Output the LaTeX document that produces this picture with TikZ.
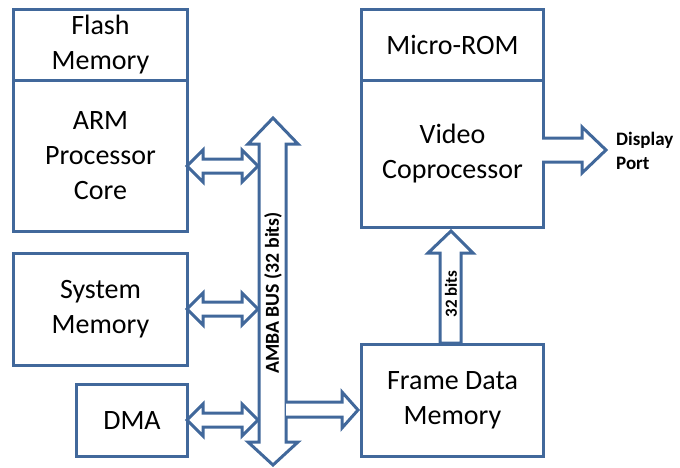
\documentclass[tikz,border=0pt]{standalone}
\usepackage{fontspec}
\setmainfont{Carlito}
\definecolor{bl}{HTML}{41689B}
\begin{document}
\begin{tikzpicture}[x=1pt,y=-1pt,
  box/.style={draw=bl, line width=3pt, fill=white, inner sep=0pt, align=center,
    anchor=north west, font=\fontsize{28}{35}\selectfont},
  blk/.style={draw=bl, line width=3pt, fill=white, line join=miter},
  lbl/.style={font=\bfseries\fontsize{17}{20}\selectfont, inner sep=0pt}]
\useasboundingbox (0,0) rectangle (680,467);
% boxes
\node[box, minimum width=174pt, minimum height=71pt] (flash) at (12,8) {Flash\\Memory};
\node[box, minimum width=174pt, minimum height=151pt] (arm) at (12,79) {ARM\\Processor\\Core};
\node[box, minimum width=174pt, minimum height=112pt] (sys) at (12,252) {System\\Memory};
\node[box, minimum width=111pt, minimum height=72pt] (dma) at (75,383) {DMA};
\node[box, minimum width=182pt, minimum height=71pt] (rom) at (360,8) {Micro-ROM};
\node[box, minimum width=182pt, minimum height=147pt] (video) at (360,79) {Video\\Coprocessor};
\node[box, minimum width=182pt, minimum height=112pt] (frame) at (360,343) {Frame Data\\Memory};
% AMBA bus
\draw[blk] (273,118) -- (298,144) -- (286,144) -- (286,442) -- (298,442) -- (273,465)
  -- (248,442) -- (259,442) -- (259,144) -- (248,144) -- cycle;
\node[lbl, font=\bfseries\fontsize{19.8}{22}\selectfont, rotate=90] (bus) at (273,293) {AMBA BUS (32 bits)};
% double arrows
\foreach \y in {166,309,420}{
  \draw[blk] (187,\y) -- (203,\y-16) -- (203,\y-7) -- (242,\y-7) -- (242,\y-16) -- (258,\y)
    -- (242,\y+16) -- (242,\y+7) -- (203,\y+7) -- (203,\y+16) -- cycle;
}
% bus to frame
\draw[blk] (286,402) -- (342,402) -- (342,392) -- (358,410) -- (342,428) -- (342,417) -- (286,417);
% 32 bits arrow
\draw[blk] (451,231) -- (473,253) -- (461,253) -- (461,343) -- (440,343) -- (440,253) -- (428,253) -- cycle;
\node[lbl, rotate=90] (b32) at (451,294) {32 bits};
% display port
\draw[blk] (542,138) -- (582,138) -- (582,127) -- (606,150) -- (582,173) -- (582,162) -- (542,162);
\node[font=\bfseries\fontsize{19}{24}\selectfont, align=left, anchor=west, inner sep=0pt] (dp) at (616,151) {Display\\Port};
\end{tikzpicture}
\end{document}
